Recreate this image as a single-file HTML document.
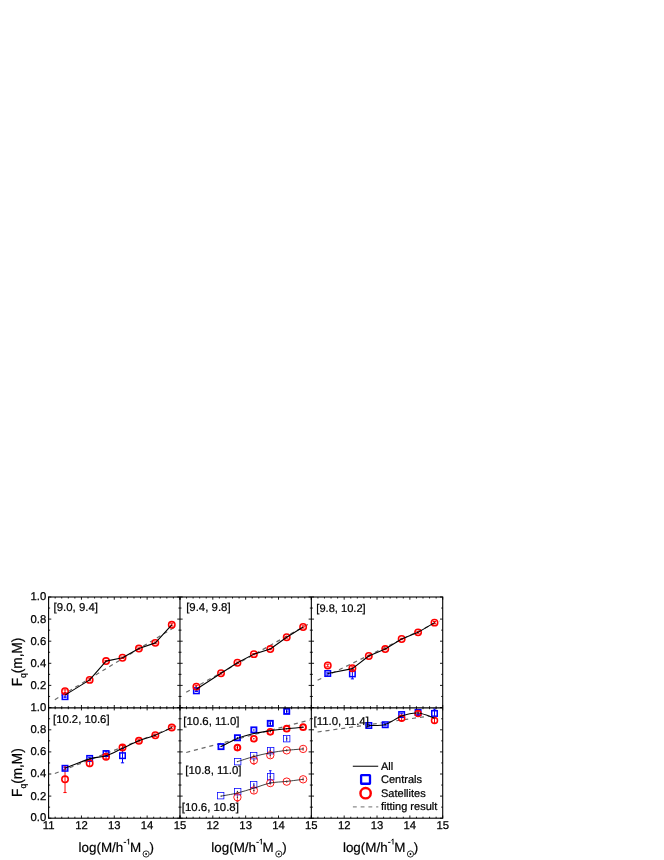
<!DOCTYPE html>
<html><head><meta charset="utf-8"><title>Fq(m,M)</title>
<style>html,body{margin:0;padding:0;background:#fff;}body{width:664px;height:860px;position:relative;overflow:hidden;font-family:"Liberation Sans",sans-serif;}</style>
</head><body>
<svg width="664" height="860" viewBox="0 0 664 860" style="position:absolute;left:0;top:0;will-change:transform;text-rendering:geometricPrecision;font-family:'Liberation Sans',sans-serif">
<rect width="664" height="860" fill="#fff"/>
<defs>
<clipPath id="cp00"><rect x="48.60" y="597.00" width="131.37" height="110.50"/></clipPath>
<clipPath id="cp01"><rect x="48.60" y="707.70" width="131.37" height="110.50"/></clipPath>
<clipPath id="cp10"><rect x="179.97" y="597.00" width="131.37" height="110.50"/></clipPath>
<clipPath id="cp11"><rect x="179.97" y="707.70" width="131.37" height="110.50"/></clipPath>
<clipPath id="cp20"><rect x="311.34" y="597.00" width="131.37" height="110.50"/></clipPath>
<clipPath id="cp21"><rect x="311.34" y="707.70" width="131.37" height="110.50"/></clipPath>
</defs>
<g clip-path="url(#cp00)">
<line x1="54.84" y1="699.64" x2="175.70" y2="626.50" stroke="#6a6a6a" stroke-width="1.2" stroke-dasharray="4.1 3.85"/>
</g>
<g clip-path="url(#cp10)">
<line x1="186.21" y1="692.20" x2="309.04" y2="623.74" stroke="#6a6a6a" stroke-width="1.2" stroke-dasharray="4.1 3.85"/>
</g>
<g clip-path="url(#cp20)">
<line x1="317.58" y1="680.26" x2="439.43" y2="620.98" stroke="#6a6a6a" stroke-width="1.2" stroke-dasharray="4.1 3.85"/>
</g>
<g clip-path="url(#cp01)">
<line x1="54.84" y1="773.49" x2="176.03" y2="726.15" stroke="#6a6a6a" stroke-width="1.2" stroke-dasharray="4.1 3.85"/>
</g>
<g clip-path="url(#cp21)">
<line x1="317.58" y1="732.00" x2="429.57" y2="715.99" stroke="#6a6a6a" stroke-width="1.2" stroke-dasharray="4.1 3.85"/>
</g>
<g clip-path="url(#cp11)">
<line x1="186.21" y1="752.47" x2="309.70" y2="719.97" stroke="#6a6a6a" stroke-width="1.2" stroke-dasharray="4.1 3.85"/>
</g>
<path d="M65.02 696.01V697.33M63.42 696.01h3.2M63.42 697.33h3.2" stroke="#0000ff" stroke-width="1.0" fill="none"/>
<path d="M65.02 689.82V692.47M63.42 689.82h3.2M63.42 692.47h3.2" stroke="#ff0000" stroke-width="1.0" fill="none"/>
<path d="M89.65 678.99V680.76M88.05 678.99h3.2M88.05 680.76h3.2" stroke="#ff0000" stroke-width="1.0" fill="none"/>
<path d="M106.07 660.43V661.75M104.47 660.43h3.2M104.47 661.75h3.2" stroke="#ff0000" stroke-width="1.0" fill="none"/>
<path d="M122.50 657.11V658.44M120.90 657.11h3.2M120.90 658.44h3.2" stroke="#ff0000" stroke-width="1.0" fill="none"/>
<path d="M138.92 647.94V649.27M137.32 647.94h3.2M137.32 649.27h3.2" stroke="#ff0000" stroke-width="1.0" fill="none"/>
<path d="M155.34 641.97V643.74M153.74 641.97h3.2M153.74 643.74h3.2" stroke="#ff0000" stroke-width="1.0" fill="none"/>
<path d="M171.76 623.74V625.95M170.16 623.74h3.2M170.16 625.95h3.2" stroke="#ff0000" stroke-width="1.0" fill="none"/>
<rect x="62.27" y="693.92" width="5.5" height="5.5" fill="none" stroke="#0000ff" stroke-width="1.5"/>
<circle cx="65.02" cy="691.15" r="3.2" fill="none" stroke="#ff0000" stroke-width="1.55"/>
<circle cx="89.65" cy="679.88" r="3.2" fill="none" stroke="#ff0000" stroke-width="1.55"/>
<circle cx="106.07" cy="661.09" r="3.2" fill="none" stroke="#ff0000" stroke-width="1.55"/>
<circle cx="122.50" cy="657.77" r="3.2" fill="none" stroke="#ff0000" stroke-width="1.55"/>
<circle cx="138.92" cy="648.60" r="3.2" fill="none" stroke="#ff0000" stroke-width="1.55"/>
<circle cx="155.34" cy="642.86" r="3.2" fill="none" stroke="#ff0000" stroke-width="1.55"/>
<circle cx="171.76" cy="624.85" r="3.2" fill="none" stroke="#ff0000" stroke-width="1.55"/>
<path d="M65.02 695.12 L89.65 679.88 L106.07 661.09 L122.50 657.77 L138.92 648.60 L155.34 642.86 L171.76 624.85" fill="none" stroke="#000" stroke-width="1.1" stroke-linejoin="round"/>
<path d="M196.39 690.15V691.48M194.79 690.15h3.2M194.79 691.48h3.2" stroke="#0000ff" stroke-width="1.0" fill="none"/>
<path d="M196.39 685.29V687.94M194.79 685.29h3.2M194.79 687.94h3.2" stroke="#ff0000" stroke-width="1.0" fill="none"/>
<path d="M221.02 672.36V674.13M219.42 672.36h3.2M219.42 674.13h3.2" stroke="#ff0000" stroke-width="1.0" fill="none"/>
<path d="M237.44 662.08V663.41M235.84 662.08h3.2M235.84 663.41h3.2" stroke="#ff0000" stroke-width="1.0" fill="none"/>
<path d="M253.87 653.47V654.79M252.27 653.47h3.2M252.27 654.79h3.2" stroke="#ff0000" stroke-width="1.0" fill="none"/>
<path d="M270.29 648.38V649.71M268.69 648.38h3.2M268.69 649.71h3.2" stroke="#ff0000" stroke-width="1.0" fill="none"/>
<path d="M286.71 636.34V638.11M285.11 636.34h3.2M285.11 638.11h3.2" stroke="#ff0000" stroke-width="1.0" fill="none"/>
<path d="M303.13 625.84V628.05M301.53 625.84h3.2M301.53 628.05h3.2" stroke="#ff0000" stroke-width="1.0" fill="none"/>
<rect x="193.64" y="688.06" width="5.5" height="5.5" fill="none" stroke="#0000ff" stroke-width="1.5"/>
<circle cx="196.39" cy="686.62" r="3.2" fill="none" stroke="#ff0000" stroke-width="1.55"/>
<circle cx="221.02" cy="673.25" r="3.2" fill="none" stroke="#ff0000" stroke-width="1.55"/>
<circle cx="237.44" cy="662.75" r="3.2" fill="none" stroke="#ff0000" stroke-width="1.55"/>
<circle cx="253.87" cy="654.13" r="3.2" fill="none" stroke="#ff0000" stroke-width="1.55"/>
<circle cx="270.29" cy="649.05" r="3.2" fill="none" stroke="#ff0000" stroke-width="1.55"/>
<circle cx="286.71" cy="637.22" r="3.2" fill="none" stroke="#ff0000" stroke-width="1.55"/>
<circle cx="303.13" cy="626.95" r="3.2" fill="none" stroke="#ff0000" stroke-width="1.55"/>
<path d="M196.39 689.27 L221.02 673.25 L237.44 662.75 L253.87 654.13 L270.29 649.05 L286.71 637.22 L303.13 626.95" fill="none" stroke="#000" stroke-width="1.1" stroke-linejoin="round"/>
<path d="M327.76 672.80V674.13M326.16 672.80h3.2M326.16 674.13h3.2" stroke="#0000ff" stroke-width="1.0" fill="none"/>
<path d="M352.39 668.94V678.88M350.79 668.94h3.2M350.79 678.88h3.2" stroke="#0000ff" stroke-width="1.0" fill="none"/>
<path d="M327.76 664.18V666.84M326.16 664.18h3.2M326.16 666.84h3.2" stroke="#ff0000" stroke-width="1.0" fill="none"/>
<path d="M352.39 666.84V669.49M350.79 666.84h3.2M350.79 669.49h3.2" stroke="#ff0000" stroke-width="1.0" fill="none"/>
<path d="M368.81 655.34V656.67M367.21 655.34h3.2M367.21 656.67h3.2" stroke="#ff0000" stroke-width="1.0" fill="none"/>
<path d="M385.24 648.38V649.71M383.64 648.38h3.2M383.64 649.71h3.2" stroke="#ff0000" stroke-width="1.0" fill="none"/>
<path d="M401.66 638.33V639.65M400.06 638.33h3.2M400.06 639.65h3.2" stroke="#ff0000" stroke-width="1.0" fill="none"/>
<path d="M418.08 631.48V633.24M416.48 631.48h3.2M416.48 633.24h3.2" stroke="#ff0000" stroke-width="1.0" fill="none"/>
<path d="M434.50 621.53V623.74M432.90 621.53h3.2M432.90 623.74h3.2" stroke="#ff0000" stroke-width="1.0" fill="none"/>
<rect x="325.01" y="670.72" width="5.5" height="5.5" fill="none" stroke="#0000ff" stroke-width="1.5"/>
<rect x="349.64" y="671.16" width="5.5" height="5.5" fill="none" stroke="#0000ff" stroke-width="1.5"/>
<circle cx="327.76" cy="665.51" r="3.2" fill="none" stroke="#ff0000" stroke-width="1.55"/>
<circle cx="352.39" cy="668.16" r="3.2" fill="none" stroke="#ff0000" stroke-width="1.55"/>
<circle cx="368.81" cy="656.01" r="3.2" fill="none" stroke="#ff0000" stroke-width="1.55"/>
<circle cx="385.24" cy="649.05" r="3.2" fill="none" stroke="#ff0000" stroke-width="1.55"/>
<circle cx="401.66" cy="638.99" r="3.2" fill="none" stroke="#ff0000" stroke-width="1.55"/>
<circle cx="418.08" cy="632.36" r="3.2" fill="none" stroke="#ff0000" stroke-width="1.55"/>
<circle cx="434.50" cy="622.64" r="3.2" fill="none" stroke="#ff0000" stroke-width="1.55"/>
<path d="M327.76 673.47 L352.39 668.60 L368.81 656.01 L385.24 649.05 L401.66 638.99 L418.08 632.36 L434.50 622.64" fill="none" stroke="#000" stroke-width="1.1" stroke-linejoin="round"/>
<path d="M65.02 767.43V769.19M63.42 767.43h3.2M63.42 769.19h3.2" stroke="#0000ff" stroke-width="1.0" fill="none"/>
<path d="M89.65 757.31V759.52M88.05 757.31h3.2M88.05 759.52h3.2" stroke="#0000ff" stroke-width="1.0" fill="none"/>
<path d="M106.07 751.35V755.77M104.47 751.35h3.2M104.47 755.77h3.2" stroke="#0000ff" stroke-width="1.0" fill="none"/>
<path d="M122.50 748.47V762.84M120.90 748.47h3.2M120.90 762.84h3.2" stroke="#0000ff" stroke-width="1.0" fill="none"/>
<path d="M65.02 766.04V792.56M63.42 766.04h3.2M63.42 792.56h3.2" stroke="#ff0000" stroke-width="1.0" fill="none"/>
<path d="M89.65 759.97V766.60M88.05 759.97h3.2M88.05 766.60h3.2" stroke="#ff0000" stroke-width="1.0" fill="none"/>
<path d="M106.07 754.55V758.97M104.47 754.55h3.2M104.47 758.97h3.2" stroke="#ff0000" stroke-width="1.0" fill="none"/>
<path d="M122.50 745.38V749.80M120.90 745.38h3.2M120.90 749.80h3.2" stroke="#ff0000" stroke-width="1.0" fill="none"/>
<path d="M138.92 739.75V741.96M137.32 739.75h3.2M137.32 741.96h3.2" stroke="#ff0000" stroke-width="1.0" fill="none"/>
<path d="M155.34 734.11V736.32M153.74 734.11h3.2M153.74 736.32h3.2" stroke="#ff0000" stroke-width="1.0" fill="none"/>
<path d="M171.76 726.26V728.92M170.16 726.26h3.2M170.16 728.92h3.2" stroke="#ff0000" stroke-width="1.0" fill="none"/>
<rect x="62.27" y="765.56" width="5.5" height="5.5" fill="none" stroke="#0000ff" stroke-width="1.5"/>
<rect x="86.90" y="755.67" width="5.5" height="5.5" fill="none" stroke="#0000ff" stroke-width="1.5"/>
<rect x="103.32" y="750.81" width="5.5" height="5.5" fill="none" stroke="#0000ff" stroke-width="1.5"/>
<rect x="119.75" y="752.91" width="5.5" height="5.5" fill="none" stroke="#0000ff" stroke-width="1.5"/>
<circle cx="65.02" cy="779.30" r="3.2" fill="none" stroke="#ff0000" stroke-width="1.55"/>
<circle cx="89.65" cy="763.28" r="3.2" fill="none" stroke="#ff0000" stroke-width="1.55"/>
<circle cx="106.07" cy="756.76" r="3.2" fill="none" stroke="#ff0000" stroke-width="1.55"/>
<circle cx="122.50" cy="747.59" r="3.2" fill="none" stroke="#ff0000" stroke-width="1.55"/>
<circle cx="138.92" cy="740.85" r="3.2" fill="none" stroke="#ff0000" stroke-width="1.55"/>
<circle cx="155.34" cy="735.21" r="3.2" fill="none" stroke="#ff0000" stroke-width="1.55"/>
<circle cx="171.76" cy="727.59" r="3.2" fill="none" stroke="#ff0000" stroke-width="1.55"/>
<path d="M65.02 768.31 C69.13 766.73 82.81 760.97 89.65 758.86 C96.50 756.75 100.60 757.43 106.07 755.66 C111.55 753.89 117.02 750.72 122.50 748.25 C127.97 745.79 133.44 743.02 138.92 740.85 C144.39 738.68 149.86 737.42 155.34 735.21 C160.81 733.00 169.02 728.86 171.76 727.59" fill="none" stroke="#000" stroke-width="1.1"/>
<path d="M368.81 724.39V726.60M367.21 724.39h3.2M367.21 726.60h3.2" stroke="#0000ff" stroke-width="1.0" fill="none"/>
<path d="M385.24 723.61V725.82M383.64 723.61h3.2M383.64 725.82h3.2" stroke="#0000ff" stroke-width="1.0" fill="none"/>
<path d="M401.66 713.23V715.88M400.06 713.23h3.2M400.06 715.88h3.2" stroke="#0000ff" stroke-width="1.0" fill="none"/>
<path d="M418.08 710.24V714.66M416.48 710.24h3.2M416.48 714.66h3.2" stroke="#0000ff" stroke-width="1.0" fill="none"/>
<path d="M434.50 709.03V717.87M432.90 709.03h3.2M432.90 717.87h3.2" stroke="#0000ff" stroke-width="1.0" fill="none"/>
<path d="M401.66 716.10V720.52M400.06 716.10h3.2M400.06 720.52h3.2" stroke="#ff0000" stroke-width="1.0" fill="none"/>
<path d="M418.08 711.24V715.66M416.48 711.24h3.2M416.48 715.66h3.2" stroke="#ff0000" stroke-width="1.0" fill="none"/>
<path d="M434.50 717.65V723.17M432.90 717.65h3.2M432.90 723.17h3.2" stroke="#ff0000" stroke-width="1.0" fill="none"/>
<rect x="366.06" y="722.74" width="5.5" height="5.5" fill="none" stroke="#0000ff" stroke-width="1.5"/>
<rect x="382.49" y="721.97" width="5.5" height="5.5" fill="none" stroke="#0000ff" stroke-width="1.5"/>
<rect x="398.91" y="711.80" width="5.5" height="5.5" fill="none" stroke="#0000ff" stroke-width="1.5"/>
<rect x="415.33" y="709.70" width="5.5" height="5.5" fill="none" stroke="#0000ff" stroke-width="1.5"/>
<rect x="431.75" y="710.70" width="5.5" height="5.5" fill="none" stroke="#0000ff" stroke-width="1.5"/>
<circle cx="401.66" cy="718.31" r="3.0" fill="none" stroke="#ff0000" stroke-width="1.5"/>
<circle cx="418.08" cy="713.45" r="3.0" fill="none" stroke="#ff0000" stroke-width="1.5"/>
<circle cx="434.50" cy="720.41" r="3.0" fill="none" stroke="#ff0000" stroke-width="1.5"/>
<path d="M368.81 725.49 C371.55 725.32 379.76 726.08 385.24 724.50 C390.71 722.91 396.18 717.90 401.66 715.99 C407.13 714.07 412.60 712.64 418.08 713.00 C423.55 713.37 431.76 717.33 434.50 718.20" fill="none" stroke="#000" stroke-width="1.1"/>
<path d="M270.29 721.18V725.60M270.29 721.18h0M270.29 725.60h0" stroke="#0000ff" stroke-width="1.3" fill="none"/>
<path d="M286.71 709.14V713.56M286.71 709.14h0M286.71 713.56h0" stroke="#0000ff" stroke-width="1.3" fill="none"/>
<path d="M237.44 745.38V749.80M237.44 745.38h0M237.44 749.80h0" stroke="#ff0000" stroke-width="1.2" fill="none"/>
<rect x="218.42" y="744.00" width="5.2" height="5.2" fill="none" stroke="#0000ff" stroke-width="1.8"/>
<rect x="234.84" y="735.16" width="5.2" height="5.2" fill="none" stroke="#0000ff" stroke-width="1.8"/>
<rect x="251.27" y="727.31" width="5.2" height="5.2" fill="none" stroke="#0000ff" stroke-width="1.8"/>
<rect x="267.69" y="720.79" width="5.2" height="5.2" fill="none" stroke="#0000ff" stroke-width="1.8"/>
<rect x="284.11" y="708.75" width="5.2" height="5.2" fill="none" stroke="#0000ff" stroke-width="1.8"/>
<circle cx="237.44" cy="747.59" r="2.9" fill="none" stroke="#ff0000" stroke-width="1.9"/>
<circle cx="253.87" cy="738.75" r="2.9" fill="none" stroke="#ff0000" stroke-width="1.9"/>
<circle cx="270.29" cy="731.79" r="2.9" fill="none" stroke="#ff0000" stroke-width="1.9"/>
<circle cx="286.71" cy="728.70" r="2.9" fill="none" stroke="#ff0000" stroke-width="1.9"/>
<circle cx="303.13" cy="727.15" r="2.9" fill="none" stroke="#ff0000" stroke-width="1.9"/>
<circle cx="221.02" cy="746.60" r="0.75" fill="#000070"/>
<circle cx="237.44" cy="737.76" r="0.75" fill="#000070"/>
<circle cx="253.87" cy="729.91" r="0.75" fill="#000070"/>
<circle cx="270.29" cy="723.39" r="0.75" fill="#000070"/>
<circle cx="286.71" cy="711.35" r="0.75" fill="#000070"/>
<circle cx="237.44" cy="747.59" r="0.75" fill="#900000"/>
<circle cx="253.87" cy="738.75" r="0.75" fill="#900000"/>
<circle cx="270.29" cy="731.79" r="0.75" fill="#900000"/>
<circle cx="286.71" cy="728.70" r="0.75" fill="#900000"/>
<circle cx="303.13" cy="727.15" r="0.75" fill="#900000"/>
<path d="M221.02 746.60 C223.76 745.23 231.97 740.59 237.44 738.42 C242.92 736.25 248.39 734.85 253.87 733.56 C259.34 732.27 264.81 731.49 270.29 730.68 C275.76 729.87 281.23 729.28 286.71 728.70 C292.18 728.11 300.39 727.41 303.13 727.15" fill="none" stroke="#000" stroke-width="1.15"/>
<path d="M270.29 747.70V753.01M270.29 747.70h0M270.29 753.01h0" stroke="#0000ff" stroke-width="0.95" fill="none"/>
<path d="M286.71 736.10V741.40M286.71 736.10h0M286.71 741.40h0" stroke="#0000ff" stroke-width="0.95" fill="none"/>
<path d="M253.87 756.43V764.17M252.67 756.43h2.4M252.67 764.17h2.4" stroke="#ff0000" stroke-width="0.7" fill="none"/>
<path d="M270.29 752.45V757.98M270.29 752.45h0M270.29 757.98h0" stroke="#ff0000" stroke-width="0.7" fill="none"/>
<path d="M286.71 749.03V751.68M286.71 749.03h0M286.71 751.68h0" stroke="#ff0000" stroke-width="0.7" fill="none"/>
<path d="M303.13 746.71V751.13M303.13 746.71h0M303.13 751.13h0" stroke="#ff0000" stroke-width="0.7" fill="none"/>
<rect x="234.5" y="758.5" width="6.4" height="6.4" fill="none" stroke="#0000ff" stroke-width="0.75"/>
<rect x="250.5" y="752.5" width="6.4" height="6.4" fill="none" stroke="#0000ff" stroke-width="0.75"/>
<rect x="267.5" y="747.5" width="6.4" height="6.4" fill="none" stroke="#0000ff" stroke-width="0.75"/>
<rect x="283.5" y="735.5" width="6.4" height="6.4" fill="none" stroke="#0000ff" stroke-width="0.75"/>
<circle cx="253.87" cy="760.30" r="3.7" fill="none" stroke="#ff0000" stroke-width="0.9"/>
<circle cx="270.29" cy="755.22" r="3.7" fill="none" stroke="#ff0000" stroke-width="0.9"/>
<circle cx="286.71" cy="750.35" r="3.7" fill="none" stroke="#ff0000" stroke-width="0.9"/>
<circle cx="303.13" cy="748.92" r="3.7" fill="none" stroke="#ff0000" stroke-width="0.9"/>
<path d="M237.44 761.62 C240.18 760.78 248.39 758.01 253.87 756.54 C259.34 755.07 264.81 753.82 270.29 752.78 C275.76 751.75 281.23 751.00 286.71 750.35 C292.18 749.71 300.39 749.16 303.13 748.92" fill="none" stroke="#000" stroke-width="0.75"/>
<circle cx="237.44" cy="761.62" r="0.7" fill="#333"/>
<circle cx="253.87" cy="755.22" r="0.7" fill="#333"/>
<circle cx="270.29" cy="750.35" r="0.7" fill="#333"/>
<circle cx="286.71" cy="738.75" r="0.7" fill="#333"/>
<circle cx="253.87" cy="760.30" r="0.7" fill="#333"/>
<circle cx="270.29" cy="755.22" r="0.7" fill="#333"/>
<circle cx="286.71" cy="750.35" r="0.7" fill="#333"/>
<circle cx="303.13" cy="748.92" r="0.7" fill="#333"/>
<path d="M253.87 782.95V787.37M253.87 782.95h0M253.87 787.37h0" stroke="#0000ff" stroke-width="0.95" fill="none"/>
<path d="M270.29 770.69V782.84M269.09 770.69h2.4M269.09 782.84h2.4" stroke="#0000ff" stroke-width="0.95" fill="none"/>
<path d="M237.44 792.79V801.62M236.24 792.79h2.4M236.24 801.62h2.4" stroke="#ff0000" stroke-width="0.7" fill="none"/>
<path d="M253.87 787.15V793.78M253.87 787.15h0M253.87 793.78h0" stroke="#ff0000" stroke-width="0.7" fill="none"/>
<path d="M270.29 780.85V785.27M270.29 780.85h0M270.29 785.27h0" stroke="#ff0000" stroke-width="0.7" fill="none"/>
<path d="M286.71 780.30V782.95M286.71 780.30h0M286.71 782.95h0" stroke="#ff0000" stroke-width="0.7" fill="none"/>
<path d="M303.13 777.09V781.51M303.13 777.09h0M303.13 781.51h0" stroke="#ff0000" stroke-width="0.7" fill="none"/>
<rect x="217.5" y="792.5" width="6.4" height="6.4" fill="none" stroke="#0000ff" stroke-width="0.75"/>
<rect x="234.5" y="788.5" width="6.4" height="6.4" fill="none" stroke="#0000ff" stroke-width="0.75"/>
<rect x="250.5" y="781.5" width="6.4" height="6.4" fill="none" stroke="#0000ff" stroke-width="0.75"/>
<rect x="267.5" y="773.5" width="6.4" height="6.4" fill="none" stroke="#0000ff" stroke-width="0.75"/>
<circle cx="237.44" cy="797.21" r="3.7" fill="none" stroke="#ff0000" stroke-width="0.9"/>
<circle cx="253.87" cy="790.46" r="3.7" fill="none" stroke="#ff0000" stroke-width="0.9"/>
<circle cx="270.29" cy="783.06" r="3.7" fill="none" stroke="#ff0000" stroke-width="0.9"/>
<circle cx="286.71" cy="781.62" r="3.7" fill="none" stroke="#ff0000" stroke-width="0.9"/>
<circle cx="303.13" cy="779.30" r="3.7" fill="none" stroke="#ff0000" stroke-width="0.9"/>
<path d="M221.02 796.10 C223.76 795.58 231.97 794.33 237.44 793.01 C242.92 791.68 248.39 789.80 253.87 788.14 C259.34 786.49 264.81 784.18 270.29 783.06 C275.76 781.94 281.23 782.03 286.71 781.40 C292.18 780.78 300.39 779.65 303.13 779.30" fill="none" stroke="#000" stroke-width="0.75"/>
<circle cx="221.02" cy="796.10" r="0.7" fill="#333"/>
<circle cx="237.44" cy="791.46" r="0.7" fill="#333"/>
<circle cx="253.87" cy="785.16" r="0.7" fill="#333"/>
<circle cx="270.29" cy="776.76" r="0.7" fill="#333"/>
<circle cx="237.44" cy="797.21" r="0.7" fill="#333"/>
<circle cx="253.87" cy="790.46" r="0.7" fill="#333"/>
<circle cx="270.29" cy="783.06" r="0.7" fill="#333"/>
<circle cx="286.71" cy="781.62" r="0.7" fill="#333"/>
<circle cx="303.13" cy="779.30" r="0.7" fill="#333"/>
<g stroke="#000" stroke-width="1.1" fill="none" stroke-linecap="butt">
<rect x="48.60" y="597.00" width="394.11" height="221.20"/>
<line x1="179.97" y1="597.00" x2="179.97" y2="818.20"/>
<line x1="311.34" y1="597.00" x2="311.34" y2="818.20"/>
<line x1="48.60" y1="707.80" x2="442.71" y2="707.80" stroke-width="1.35"/>
</g>
<path d="M48.60 597.00v2.7M48.60 705.00v5.4M48.60 818.20v-2.7M55.17 597.00v1.5M55.17 706.20v3.0M55.17 818.20v-1.5M61.74 597.00v1.5M61.74 706.20v3.0M61.74 818.20v-1.5M68.31 597.00v1.5M68.31 706.20v3.0M68.31 818.20v-1.5M74.87 597.00v1.5M74.87 706.20v3.0M74.87 818.20v-1.5M81.44 597.00v2.7M81.44 705.00v5.4M81.44 818.20v-2.7M88.01 597.00v1.5M88.01 706.20v3.0M88.01 818.20v-1.5M94.58 597.00v1.5M94.58 706.20v3.0M94.58 818.20v-1.5M101.15 597.00v1.5M101.15 706.20v3.0M101.15 818.20v-1.5M107.72 597.00v1.5M107.72 706.20v3.0M107.72 818.20v-1.5M114.28 597.00v2.7M114.28 705.00v5.4M114.28 818.20v-2.7M120.85 597.00v1.5M120.85 706.20v3.0M120.85 818.20v-1.5M127.42 597.00v1.5M127.42 706.20v3.0M127.42 818.20v-1.5M133.99 597.00v1.5M133.99 706.20v3.0M133.99 818.20v-1.5M140.56 597.00v1.5M140.56 706.20v3.0M140.56 818.20v-1.5M147.13 597.00v2.7M147.13 705.00v5.4M147.13 818.20v-2.7M153.70 597.00v1.5M153.70 706.20v3.0M153.70 818.20v-1.5M160.26 597.00v1.5M160.26 706.20v3.0M160.26 818.20v-1.5M166.83 597.00v1.5M166.83 706.20v3.0M166.83 818.20v-1.5M173.40 597.00v1.5M173.40 706.20v3.0M173.40 818.20v-1.5M179.97 597.00v2.7M179.97 705.00v5.4M179.97 818.20v-2.7M179.97 597.00v2.7M179.97 705.00v5.4M179.97 818.20v-2.7M186.54 597.00v1.5M186.54 706.20v3.0M186.54 818.20v-1.5M193.11 597.00v1.5M193.11 706.20v3.0M193.11 818.20v-1.5M199.68 597.00v1.5M199.68 706.20v3.0M199.68 818.20v-1.5M206.24 597.00v1.5M206.24 706.20v3.0M206.24 818.20v-1.5M212.81 597.00v2.7M212.81 705.00v5.4M212.81 818.20v-2.7M219.38 597.00v1.5M219.38 706.20v3.0M219.38 818.20v-1.5M225.95 597.00v1.5M225.95 706.20v3.0M225.95 818.20v-1.5M232.52 597.00v1.5M232.52 706.20v3.0M232.52 818.20v-1.5M239.09 597.00v1.5M239.09 706.20v3.0M239.09 818.20v-1.5M245.66 597.00v2.7M245.66 705.00v5.4M245.66 818.20v-2.7M252.22 597.00v1.5M252.22 706.20v3.0M252.22 818.20v-1.5M258.79 597.00v1.5M258.79 706.20v3.0M258.79 818.20v-1.5M265.36 597.00v1.5M265.36 706.20v3.0M265.36 818.20v-1.5M271.93 597.00v1.5M271.93 706.20v3.0M271.93 818.20v-1.5M278.50 597.00v2.7M278.50 705.00v5.4M278.50 818.20v-2.7M285.07 597.00v1.5M285.07 706.20v3.0M285.07 818.20v-1.5M291.63 597.00v1.5M291.63 706.20v3.0M291.63 818.20v-1.5M298.20 597.00v1.5M298.20 706.20v3.0M298.20 818.20v-1.5M304.77 597.00v1.5M304.77 706.20v3.0M304.77 818.20v-1.5M311.34 597.00v2.7M311.34 705.00v5.4M311.34 818.20v-2.7M311.34 597.00v2.7M311.34 705.00v5.4M311.34 818.20v-2.7M317.91 597.00v1.5M317.91 706.20v3.0M317.91 818.20v-1.5M324.48 597.00v1.5M324.48 706.20v3.0M324.48 818.20v-1.5M331.05 597.00v1.5M331.05 706.20v3.0M331.05 818.20v-1.5M337.61 597.00v1.5M337.61 706.20v3.0M337.61 818.20v-1.5M344.18 597.00v2.7M344.18 705.00v5.4M344.18 818.20v-2.7M350.75 597.00v1.5M350.75 706.20v3.0M350.75 818.20v-1.5M357.32 597.00v1.5M357.32 706.20v3.0M357.32 818.20v-1.5M363.89 597.00v1.5M363.89 706.20v3.0M363.89 818.20v-1.5M370.46 597.00v1.5M370.46 706.20v3.0M370.46 818.20v-1.5M377.03 597.00v2.7M377.03 705.00v5.4M377.03 818.20v-2.7M383.59 597.00v1.5M383.59 706.20v3.0M383.59 818.20v-1.5M390.16 597.00v1.5M390.16 706.20v3.0M390.16 818.20v-1.5M396.73 597.00v1.5M396.73 706.20v3.0M396.73 818.20v-1.5M403.30 597.00v1.5M403.30 706.20v3.0M403.30 818.20v-1.5M409.87 597.00v2.7M409.87 705.00v5.4M409.87 818.20v-2.7M416.44 597.00v1.5M416.44 706.20v3.0M416.44 818.20v-1.5M423.00 597.00v1.5M423.00 706.20v3.0M423.00 818.20v-1.5M429.57 597.00v1.5M429.57 706.20v3.0M429.57 818.20v-1.5M436.14 597.00v1.5M436.14 706.20v3.0M436.14 818.20v-1.5M442.71 597.00v2.7M442.71 705.00v5.4M442.71 818.20v-2.7M48.60 707.50h2.7M177.27 707.50h5.4M308.64 707.50h5.4M442.71 707.50h-2.7M48.60 696.45h1.5M178.47 696.45h3.0M309.84 696.45h3.0M442.71 696.45h-1.5M48.60 685.40h2.7M177.27 685.40h5.4M308.64 685.40h5.4M442.71 685.40h-2.7M48.60 674.35h1.5M178.47 674.35h3.0M309.84 674.35h3.0M442.71 674.35h-1.5M48.60 663.30h2.7M177.27 663.30h5.4M308.64 663.30h5.4M442.71 663.30h-2.7M48.60 652.25h1.5M178.47 652.25h3.0M309.84 652.25h3.0M442.71 652.25h-1.5M48.60 641.20h2.7M177.27 641.20h5.4M308.64 641.20h5.4M442.71 641.20h-2.7M48.60 630.15h1.5M178.47 630.15h3.0M309.84 630.15h3.0M442.71 630.15h-1.5M48.60 619.10h2.7M177.27 619.10h5.4M308.64 619.10h5.4M442.71 619.10h-2.7M48.60 608.05h1.5M178.47 608.05h3.0M309.84 608.05h3.0M442.71 608.05h-1.5M48.60 597.00h2.7M177.27 597.00h5.4M308.64 597.00h5.4M442.71 597.00h-2.7M48.60 818.20h2.7M177.27 818.20h5.4M308.64 818.20h5.4M442.71 818.20h-2.7M48.60 807.15h1.5M178.47 807.15h3.0M309.84 807.15h3.0M442.71 807.15h-1.5M48.60 796.10h2.7M177.27 796.10h5.4M308.64 796.10h5.4M442.71 796.10h-2.7M48.60 785.05h1.5M178.47 785.05h3.0M309.84 785.05h3.0M442.71 785.05h-1.5M48.60 774.00h2.7M177.27 774.00h5.4M308.64 774.00h5.4M442.71 774.00h-2.7M48.60 762.95h1.5M178.47 762.95h3.0M309.84 762.95h3.0M442.71 762.95h-1.5M48.60 751.90h2.7M177.27 751.90h5.4M308.64 751.90h5.4M442.71 751.90h-2.7M48.60 740.85h1.5M178.47 740.85h3.0M309.84 740.85h3.0M442.71 740.85h-1.5M48.60 729.80h2.7M177.27 729.80h5.4M308.64 729.80h5.4M442.71 729.80h-2.7M48.60 718.75h1.5M178.47 718.75h3.0M309.84 718.75h3.0M442.71 718.75h-1.5M48.60 707.70h2.7M177.27 707.70h5.4M308.64 707.70h5.4M442.71 707.70h-2.7" stroke="#000" stroke-width="0.9" fill="none"/>
<g font-size="11.3" fill="#000" stroke="#000" stroke-width="0.25">
<text x="46.3" y="600.40" text-anchor="end">1.0</text>
<text x="46.3" y="622.50" text-anchor="end">0.8</text>
<text x="46.3" y="644.60" text-anchor="end">0.6</text>
<text x="46.3" y="666.70" text-anchor="end">0.4</text>
<text x="46.3" y="688.80" text-anchor="end">0.2</text>
<text x="46.3" y="711.10" text-anchor="end">1.0</text>
<text x="46.3" y="733.20" text-anchor="end">0.8</text>
<text x="46.3" y="755.30" text-anchor="end">0.6</text>
<text x="46.3" y="777.40" text-anchor="end">0.4</text>
<text x="46.3" y="799.50" text-anchor="end">0.2</text>
<text x="46.3" y="821.00" text-anchor="end">0.0</text>
<text x="48.60" y="829.4" text-anchor="middle">11</text>
<text x="81.44" y="829.4" text-anchor="middle">12</text>
<text x="114.28" y="829.4" text-anchor="middle">13</text>
<text x="147.13" y="829.4" text-anchor="middle">14</text>
<text x="212.81" y="829.4" text-anchor="middle">12</text>
<text x="245.66" y="829.4" text-anchor="middle">13</text>
<text x="278.50" y="829.4" text-anchor="middle">14</text>
<text x="344.18" y="829.4" text-anchor="middle">12</text>
<text x="377.03" y="829.4" text-anchor="middle">13</text>
<text x="409.87" y="829.4" text-anchor="middle">14</text>
<text x="442.71" y="829.4" text-anchor="middle">15</text>
<text x="179.97" y="829.4" text-anchor="middle">15</text>
<text x="311.34" y="829.4" text-anchor="middle">15</text>
</g>
<g font-size="11.42" fill="#000" stroke="#000" stroke-width="0.22">
<text x="53.6" y="610.9" font-size="11.42">[9.0, 9.4]</text>
<text x="186.2" y="610.9" font-size="11.42">[9.4, 9.8]</text>
<text x="316.3" y="612.3" font-size="11.1">[9.8, 10.2]</text>
<text x="53.0" y="723.4" font-size="11.3">[10.2, 10.6]</text>
<text x="313.5" y="724.6" font-size="11.42">[11.0, 11.4]</text>
<text x="183.3" y="725.0">[10.6, 11.0]</text>
<text x="185.3" y="773.8">[10.8, 11.0]</text>
<text x="181.8" y="811.1">[10.6, 10.8]</text>
</g>
<g transform="translate(78.60,851.8)" font-size="13.4" fill="#000" stroke="#000" stroke-width="0.2" text-rendering="geometricPrecision"><text x="0" y="0">log(M/h</text><text x="51.3" y="0">M</text><text x="70.9" y="0">)</text><path d="M45.1 -9.4h2.4" stroke="#000" stroke-width="0.95" fill="none"/><path d="M50.05 -7.3V-12.9L48.5 -11.3" stroke="#000" stroke-width="0.95" fill="none" stroke-linejoin="miter"/></g>
<circle cx="146.10" cy="854.00" r="3.1" fill="none" stroke="#000" stroke-width="0.8"/><circle cx="146.10" cy="854.00" r="0.9" fill="#000"/>
<g transform="translate(211.30,851.8)" font-size="13.4" fill="#000" stroke="#000" stroke-width="0.2" text-rendering="geometricPrecision"><text x="0" y="0">log(M/h</text><text x="51.3" y="0">M</text><text x="70.9" y="0">)</text><path d="M45.1 -9.4h2.4" stroke="#000" stroke-width="0.95" fill="none"/><path d="M50.05 -7.3V-12.9L48.5 -11.3" stroke="#000" stroke-width="0.95" fill="none" stroke-linejoin="miter"/></g>
<circle cx="278.80" cy="854.00" r="3.1" fill="none" stroke="#000" stroke-width="0.8"/><circle cx="278.80" cy="854.00" r="0.9" fill="#000"/>
<g transform="translate(342.95,851.8)" font-size="13.4" fill="#000" stroke="#000" stroke-width="0.2" text-rendering="geometricPrecision"><text x="0" y="0">log(M/h</text><text x="51.3" y="0">M</text><text x="70.9" y="0">)</text><path d="M45.1 -9.4h2.4" stroke="#000" stroke-width="0.95" fill="none"/><path d="M50.05 -7.3V-12.9L48.5 -11.3" stroke="#000" stroke-width="0.95" fill="none" stroke-linejoin="miter"/></g>
<circle cx="410.45" cy="854.00" r="3.1" fill="none" stroke="#000" stroke-width="0.8"/><circle cx="410.45" cy="854.00" r="0.9" fill="#000"/>
<g transform="translate(21.7,686.3) rotate(-90) scale(1,1.07)"><text x="0" y="0" font-size="13.65" fill="#000" stroke="#000" stroke-width="0.2">F<tspan font-size="8.5" dy="4.0">q</tspan><tspan dy="-4.0">(m,M)</tspan></text></g>
<g transform="translate(21.7,796.9) rotate(-90) scale(1,1.07)"><text x="0" y="0" font-size="13.65" fill="#000" stroke="#000" stroke-width="0.2">F<tspan font-size="8.5" dy="4.0">q</tspan><tspan dy="-4.0">(m,M)</tspan></text></g>
<line x1="352.8" y1="766.25" x2="378.2" y2="766.25" stroke="#111" stroke-width="1.1"/>
<rect x="361.1" y="775.15" width="8.9" height="8.6" rx="0.4" fill="none" stroke="#0000ff" stroke-width="2.3"/>
<circle cx="365.6" cy="793.2" r="5.15" fill="none" stroke="#ff0000" stroke-width="2.45"/>
<line x1="352.9" y1="806.85" x2="378.3" y2="806.85" stroke="#8c8c8c" stroke-width="1.35" stroke-dasharray="3.85 3.9"/>
<g font-size="11.0" fill="#000" stroke="#000" stroke-width="0.22"><text x="381.0" y="769.7">All</text><text x="381.0" y="783.3">Centrals</text><text x="381.0" y="796.7">Satellites</text><text x="381.0" y="810.4">fitting result</text></g>
</svg>
</body></html>
